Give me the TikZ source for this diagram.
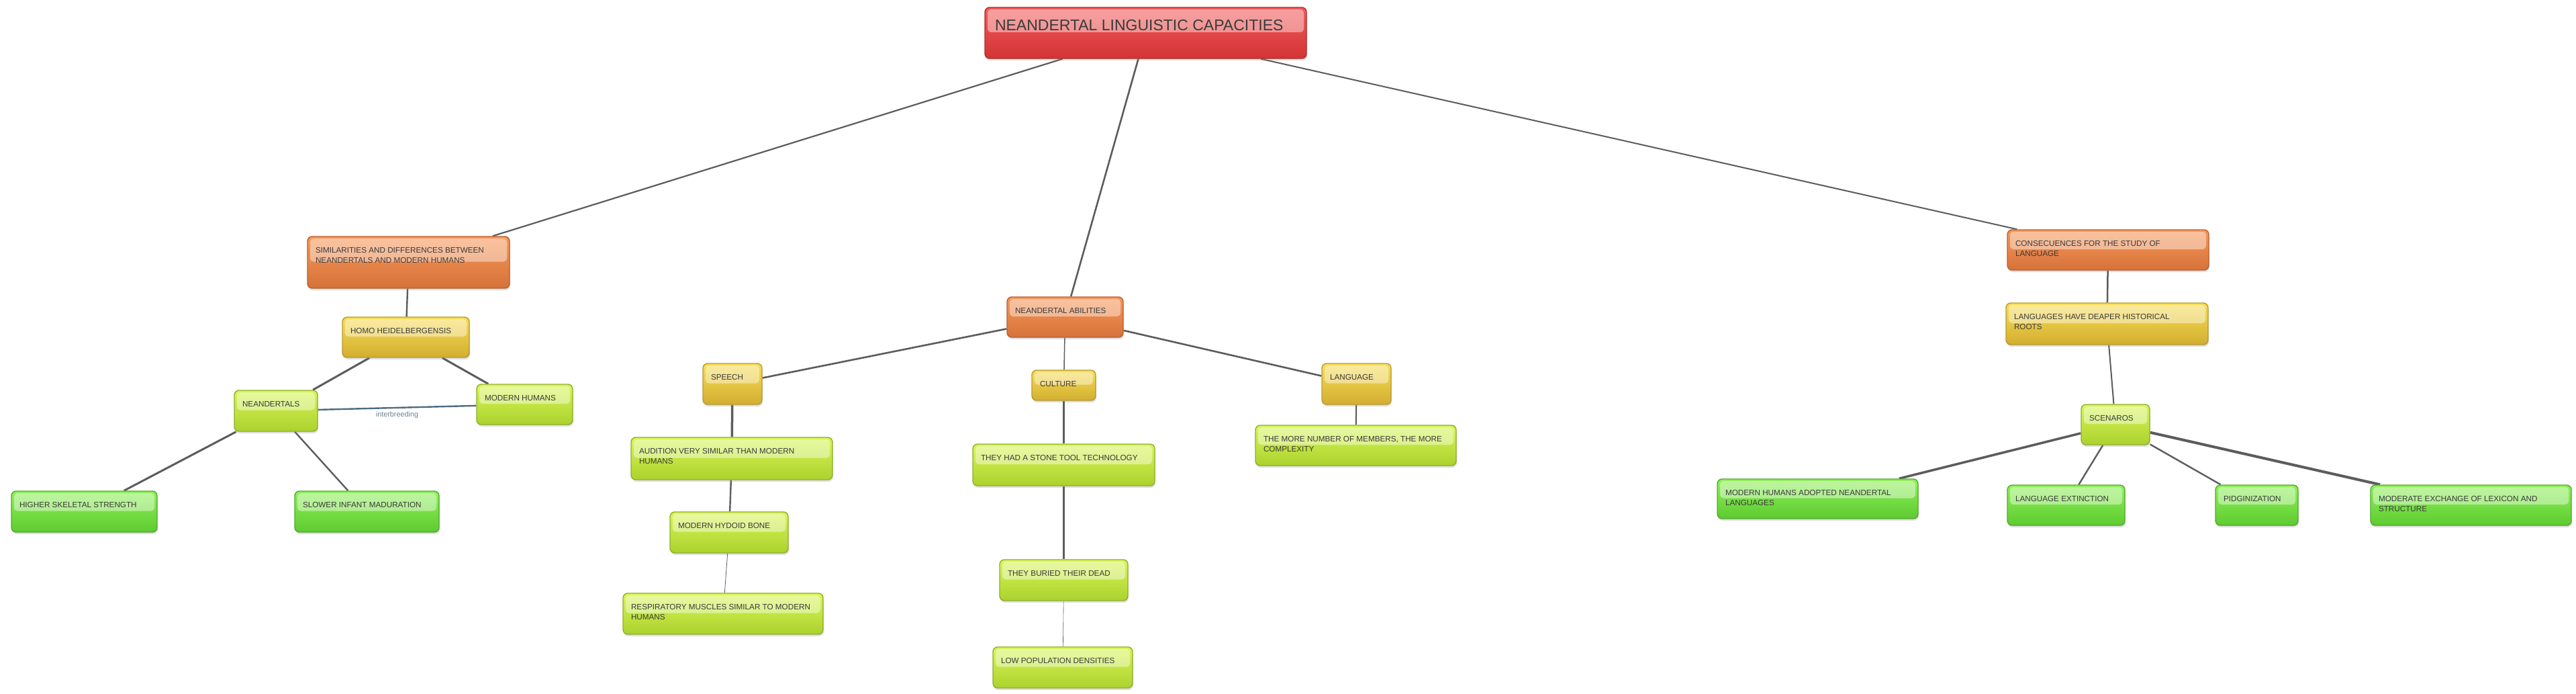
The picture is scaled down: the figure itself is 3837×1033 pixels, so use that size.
\documentclass[tikz,border=0pt]{standalone}
\usepackage{fontspec}
\newfontfamily\mapfont{Liberation Sans}
\usepackage{xcolor}
\usetikzlibrary{calc,shadows,backgrounds}

\definecolor{rootfill}{HTML}{F24848}
\definecolor{rootdark}{HTML}{D23434}
\definecolor{rootline}{HTML}{B02C2C}
\definecolor{orgfill}{HTML}{F78C48}
\definecolor{orgdark}{HTML}{D5723A}
\definecolor{orgline}{HTML}{B5612E}
\definecolor{yelfill}{HTML}{F7DA45}
\definecolor{yeldark}{HTML}{D2AE30}
\definecolor{yelline}{HTML}{B59A2E}
\definecolor{limefill}{HTML}{D4F545}
\definecolor{limedark}{HTML}{ABD22E}
\definecolor{limeline}{HTML}{8FAE2C}
\definecolor{grnfill}{HTML}{84EF48}
\definecolor{grndark}{HTML}{5DCB30}
\definecolor{grnline}{HTML}{52A92E}
\definecolor{linkgray}{HTML}{5C5C5C}
\definecolor{breedblue}{HTML}{4F6B80}
\definecolor{txtgray}{HTML}{3A3A3A}

\begin{document}
\begin{tikzpicture}[x=1pt, y=-1pt,
  sized/.style 2 args={
    execute at begin node={\begin{minipage}[t][\dimexpr#2pt-32pt\relax][t]{\dimexpr#1pt-24pt\relax}\raggedright},
    execute at end node={\end{minipage}}},
  bubble/.style={rounded corners=7pt, line width=1.4pt, inner xsep=12pt, inner ysep=16pt,
    text=txtgray, font=\mapfont\fontsize{11.7}{15}\selectfont,
    drop shadow={shadow xshift=1pt, shadow yshift=-3pt, opacity=0.25},
    path picture={\fill[white, opacity=0.42, rounded corners=5pt]
      ($(path picture bounding box.north west)+(4pt,-3pt)$) rectangle
      ($(path picture bounding box.east)+(-4pt,1pt)$);}},
  mainbox/.style={bubble, top color=rootfill!90!white, bottom color=rootdark, draw=rootline,
    font=\mapfont\fontsize{23}{27}\selectfont, inner xsep=15pt, inner ysep=18pt},
  catbox/.style={bubble, top color=orgfill!90!white, bottom color=orgdark, draw=orgline},
  subbox/.style={bubble, top color=yelfill!90!white, bottom color=yeldark, draw=yelline},
  itembox/.style={bubble, top color=limefill!90!white, bottom color=limedark, draw=limeline},
  leafbox/.style={bubble, top color=grnfill!90!white, bottom color=grndark, draw=grnline},
  link/.style={draw=linkgray}]

  \useasboundingbox (0,0) rectangle (3837,1033);

  % Root
  \node[mainbox, sized={473}{72}] (capacities) at (1706.5,49) {NEANDERTAL LINGUISTIC CAPACITIES};

  % Left branch
  \node[catbox, sized={301}{77}] (similar) at (608.5,390.5) {SIMILARITIES AND DIFFERENCES BETWEEN\\NEANDERTALS AND MODERN HUMANS};
  \node[subbox, sized={189}{60}] (heidel) at (604.5,502) {HOMO HEIDELBERGENSIS};
  \node[itembox, sized={124}{61}] (neander) at (411,611.5) {NEANDERTALS};
  \node[itembox, sized={143}{60}] (modern) at (781.5,602) {MODERN HUMANS};
  \node[leafbox, sized={217}{61}] (skeletal) at (125.5,761.5) {HIGHER SKELETAL STRENGTH};
  \node[leafbox, sized={215}{61}] (infant) at (546.5,761.5) {SLOWER INFANT MADURATION};

  % Middle branch
  \node[catbox, sized={173}{60}] (abilities) at (1586.5,472) {NEANDERTAL ABILITIES};
  \node[subbox, sized={88}{61}] (speech) at (1091,571.5) {SPEECH};
  \node[subbox, sized={95}{45}] (culture) at (1584.5,573.5) {CULTURE};
  \node[subbox, sized={103}{61}] (language) at (2020.5,571.5) {LANGUAGE};
  \node[itembox, sized={300}{63}] (audition) at (1090,682.5) {AUDITION VERY SIMILAR THAN MODERN\\HUMANS};
  \node[itembox, sized={176}{61}] (hyoid) at (1086,792.5) {MODERN HYDOID BONE};
  \node[itembox, sized={298}{61}] (muscles) at (1077,913.5) {RESPIRATORY MUSCLES SIMILAR TO MODERN\\HUMANS};
  \node[itembox, sized={271}{62}] (stonetool) at (1584.5,692) {THEY HAD A STONE TOOL TECHNOLOGY};
  \node[itembox, sized={191}{61}] (buried) at (1584.5,863.5) {THEY BURIED THEIR DEAD};
  \node[itembox, sized={208}{61}] (density) at (1583,993.5) {LOW POPULATION DENSITIES};
  \node[itembox, sized={299}{60}] (members) at (2019.5,663) {THE MORE NUMBER OF MEMBERS, THE MORE\\COMPLEXITY};

  % Right branch
  \node[catbox, sized={300}{60}] (conseq) at (3140,372) {CONSECUENCES FOR THE STUDY OF\\LANGUAGE};
  \node[subbox, sized={301}{62}] (roots) at (3138.5,482) {LANGUAGES HAVE DEAPER HISTORICAL\\ROOTS};
  \node[itembox, sized={102}{60}] (scenarios) at (3151,632) {SCENAROS};
  \node[leafbox, sized={299}{59}] (adopted) at (2707.5,742.5) {MODERN HUMANS ADOPTED NEANDERTAL\\LANGUAGES};
  \node[leafbox, sized={175}{60}] (extinct) at (3077.5,752) {LANGUAGE EXTINCTION};
  \node[leafbox, sized={123}{60}] (pidgin) at (3361.5,752) {PIDGINIZATION};
  \node[leafbox, sized={299}{60}] (exchange) at (3680.5,752) {MODERATE EXCHANGE OF LEXICON AND\\STRUCTURE};

  % Links
  \begin{pgfonlayer}{background}
    \draw[link, line width=2.2pt] (capacities) -- (similar);
    \draw[link, line width=2.6pt] (capacities) -- (abilities);
    \draw[link, line width=2pt] (capacities) -- (conseq);

    \draw[link, line width=2.4pt] (similar) -- (heidel);
    \draw[link, line width=3pt] (heidel) -- (neander);
    \draw[link, line width=3pt] (heidel) -- (modern);
    \draw[breedblue, line width=2.4pt] (neander) -- node[below=1pt, text=breedblue!85!white, font=\mapfont\fontsize{10.8}{12}\selectfont] (breedlbl) {interbreeding} (modern);
    \draw[link, line width=3pt] (neander) -- (skeletal);
    \draw[link, line width=2.4pt] (neander) -- (infant);

    \draw[link, line width=2.6pt] (abilities) -- (speech);
    \draw[link, line width=1.5pt] (abilities) -- (culture);
    \draw[link, line width=2.6pt] (abilities) -- (language);
    \draw[link, line width=3.5pt] (speech) -- (audition);
    \draw[link, line width=2.4pt] (audition) -- (hyoid);
    \draw[link, line width=0.8pt] (hyoid) -- (muscles);
    \draw[link, line width=3pt] (culture) -- (stonetool);
    \draw[link, line width=2.4pt] (stonetool) -- (buried);
    \draw[link, line width=0.6pt] (buried) -- (density);
    \draw[link, line width=2pt] (language) -- (members);

    \draw[link, line width=2.5pt] (conseq) -- (roots);
    \draw[link, line width=2pt] (roots) -- (scenarios);
    \draw[link, line width=3.5pt] (scenarios) -- (adopted);
    \draw[link, line width=2.4pt] (scenarios) -- (extinct);
    \draw[link, line width=2.4pt] (scenarios) -- (pidgin);
    \draw[link, line width=4pt] (scenarios) -- (exchange);
  \end{pgfonlayer}
\end{tikzpicture}
\end{document}
